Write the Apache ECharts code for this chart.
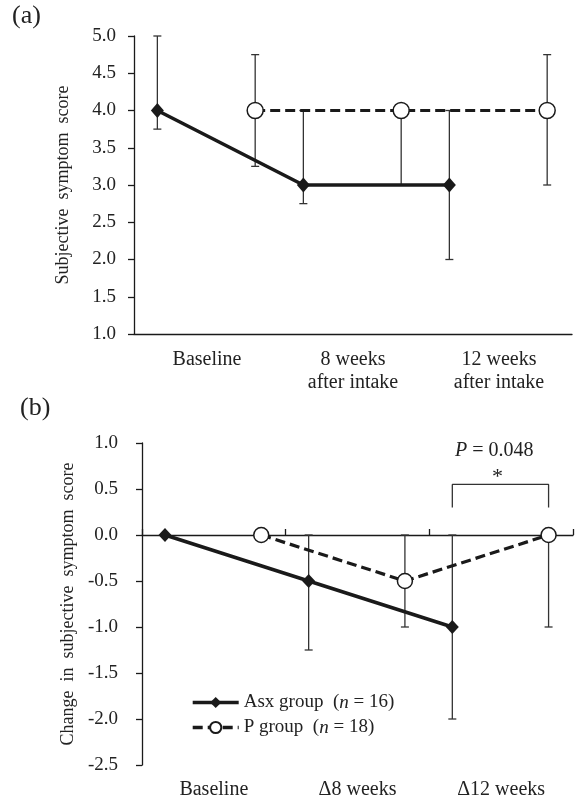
<!DOCTYPE html>
<html>
	<head>
		<meta charset="utf-8">
		<title></title>
		<script type="text/javascript" src="https://cdn.jsdelivr.net/npm/echarts@6/dist/echarts.min.js"></script>
	</head>
	<body style="margin:0;">
		<div id="chart" style="width:575px;height:800px;"></div>
		<script type="text/javascript">
			// 分类
			var catsA = ['Baseline', '8 weeks\nafter intake', '12 weeks\nafter intake'];
			var catsB = ['Baseline', 'Δ8 weeks', 'Δ12 weeks'];
			var yTicksA = [1.0, 5.0, 0.5]; // min, max, interval
			var yTicksB = [-2.5, 1.0, 0.5];

			// (a) Subjective symptom score
			var asxA = [4.0, 3.0, 3.0];
			var asxALow = [3.75, 2.75, 2.0];
			var asxAHigh = [5.0, 4.0, 4.0];
			var pA = [4.0, 4.0, 4.0];
			var pALow = [3.25, 3.0, 3.0];
			var pAHigh = [4.75, 4.0, 4.75];

			// (b) Change in subjective symptom score
			var asxB = [0, -0.5, -1.0];
			var asxBLow = [0, -1.25, -2.0];
			var asxBHigh = [0, 0, 0];
			var pB = [0, -0.5, 0];
			var pBLow = [0, -1.0, -1.0];
			var pBHigh = [0, 0, 0];

			var groupNames = ['Asx group', 'P group'];
			var groupN = [16, 18];
			var bracketY = [0.3, 0.55];
			var pValue = '0.048';

			// 组内偏移（每个分类里两组点的位置）
			var asxOffset = 0.16;
			var pOffset = 0.83;

			var font = '"Liberation Serif", "DejaVu Serif", serif';
			var ink = '#1a1a1a';

			function toPts(vals, off) {
				return vals.map(function(v, i) { return [i + off, v]; });
			}
			function toErr(low, high, off) {
				return low.map(function(l, i) { return [i + off, l, high[i]]; });
			}

			// 误差线
			function errRender(params, api) {
				var x = api.value(0), lo = api.value(1), hi = api.value(2);
				if (lo === hi) return null;
				var t = api.coord([x, hi]);
				var b = api.coord([x, lo]);
				var c = 4;
				var st = { stroke: '#333', lineWidth: 1.3 };
				return {
					type: 'group',
					children: [
						{ type: 'line', shape: { x1: t[0], y1: t[1], x2: b[0], y2: b[1] }, style: st },
						{ type: 'line', shape: { x1: t[0] - c, y1: t[1], x2: t[0] + c, y2: t[1] }, style: st },
						{ type: 'line', shape: { x1: b[0] - c, y1: b[1], x2: b[0] + c, y2: b[1] }, style: st }
					]
				};
			}

			function errSeries(xi, yi, data) {
				return {
					type: 'custom',
					xAxisIndex: xi,
					yAxisIndex: yi,
					renderItem: errRender,
					encode: { x: 0, y: [1, 2] },
					data: data,
					z: 1,
					silent: true
				};
			}

			function asxSeries(name, xi, yi, data, size) {
				return {
					name: name,
					type: 'line',
					xAxisIndex: xi,
					yAxisIndex: yi,
					data: data,
					symbol: 'diamond',
					symbolSize: size,
					itemStyle: { color: ink },
					lineStyle: { color: ink, width: 3.6 },
					z: 3
				};
			}

			function pSeries(name, xi, yi, data, size) {
				return {
					name: name,
					type: 'line',
					xAxisIndex: xi,
					yAxisIndex: yi,
					data: data,
					symbol: 'circle',
					symbolSize: size,
					itemStyle: { color: '#fff', borderColor: ink, borderWidth: 1.5 },
					lineStyle: { color: ink, width: 3.2, type: [10, 5] },
					z: 4
				};
			}

			var axisLineStyle = { color: ink, width: 1.3 };
			var tickFont = { fontFamily: font, fontSize: 19, color: '#222' };
			var catFont = { fontFamily: font, fontSize: 20, color: '#222' };

			var myChart = echarts.init(document.getElementById('chart'));
			var option = {
				animation: false,
				backgroundColor: '#fff',
				grid: [
					{ left: 134, top: 36, width: 438, height: 298 },
					{ left: 142, top: 443, width: 431, height: 322 }
				],
				xAxis: [
					{
						type: 'category', gridIndex: 0, data: catsA,
						axisLine: { lineStyle: axisLineStyle },
						axisTick: { length: 6, lineStyle: axisLineStyle },
						axisLabel: Object.assign({ margin: 14, lineHeight: 23 }, catFont)
					},
					{ type: 'value', gridIndex: 0, min: 0, max: 3, show: false },
					{
						type: 'category', gridIndex: 1, data: catsB,
						axisLine: { show: false, onZero: false },
						axisTick: { show: false },
						axisLabel: Object.assign({ margin: 15 }, catFont)
					},
					{
						type: 'value', gridIndex: 1, min: 0, max: 3, interval: 1,
						axisLine: { onZero: true, lineStyle: axisLineStyle },
						axisTick: { length: 6, lineStyle: axisLineStyle },
						axisLabel: { show: false },
						splitLine: { show: false }
					}
				],
				yAxis: [
					{
						type: 'value', gridIndex: 0,
						min: yTicksA[0], max: yTicksA[1], interval: yTicksA[2],
						name: 'Subjective  symptom  score',
						nameLocation: 'middle', nameGap: 62,
						nameTextStyle: { fontFamily: font, fontSize: 18, color: '#222' },
						axisLine: { show: true, lineStyle: axisLineStyle },
						axisTick: { show: true, length: 6, lineStyle: axisLineStyle },
						axisLabel: Object.assign({ margin: 18, formatter: function(v) { return v.toFixed(1); } }, tickFont),
						splitLine: { show: false }
					},
					{
						type: 'value', gridIndex: 1,
						min: yTicksB[0], max: yTicksB[1], interval: yTicksB[2],
						name: 'Change  in  subjective  symptom  score',
						nameLocation: 'middle', nameGap: 64,
						nameTextStyle: { fontFamily: font, fontSize: 18, color: '#222' },
						axisLine: { show: true, onZero: false, lineStyle: axisLineStyle },
						axisTick: { show: true, length: 6, lineStyle: axisLineStyle },
						axisLabel: Object.assign({ margin: 24, formatter: function(v) { return v.toFixed(1); } }, tickFont),
						splitLine: { show: false }
					}
				],
				legend: {
					orient: 'vertical',
					left: 186,
					top: 688,
					itemWidth: 46,
					itemHeight: 14,
					itemGap: 6,
					data: groupNames,
					lineStyle: { width: 3.4 },
					formatter: function(name) {
						var n = groupN[groupNames.indexOf(name)];
						return '{t|' + name + '  (}{i|n}{t| = ' + n + ')}';
					},
					textStyle: {
						rich: {
							t: { fontFamily: font, fontSize: 19, color: '#222' },
							i: { fontFamily: font, fontSize: 19, fontStyle: 'italic', color: '#222' }
						}
					}
				},
				graphic: [
					{ type: 'text', left: 12, top: 3, style: { text: '(a)', font: '26px ' + font, fill: '#222' } },
					{ type: 'text', left: 20, top: 395, style: { text: '(b)', font: '26px ' + font, fill: '#222' } },
					{
						type: 'text', left: 455, top: 441,
						style: {
							text: '{i|P} = ' + pValue,
							rich: { i: { fontStyle: 'italic', fontFamily: font, fontSize: 20 } },
							font: '20px ' + font, fill: '#222'
						}
					},
					{ type: 'text', left: 492, top: 466, style: { text: '*', font: '22px ' + font, fill: '#222' } }
				],
				series: [
					errSeries(1, 0, toErr(asxALow, asxAHigh, asxOffset)),
					errSeries(1, 0, toErr(pALow, pAHigh, pOffset)),
					asxSeries('Asx (a)', 1, 0, toPts(asxA, asxOffset), [13, 15]),
					pSeries('P (a)', 1, 0, toPts(pA, pOffset), 16),
					errSeries(3, 1, toErr(asxBLow, asxBHigh, asxOffset)),
					errSeries(3, 1, toErr(pBLow, pBHigh, pOffset)),
					asxSeries(groupNames[0], 3, 1, toPts(asxB, asxOffset), [13, 14]),
					pSeries(groupNames[1], 3, 1, toPts(pB, pOffset), 15),
					{
						// 显著性括号
						type: 'line',
						xAxisIndex: 3,
						yAxisIndex: 1,
						symbol: 'none',
						silent: true,
						lineStyle: { color: '#333', width: 1.3 },
						data: [
							[2 + asxOffset, bracketY[0]],
							[2 + asxOffset, bracketY[1]],
							[2 + pOffset, bracketY[1]],
							[2 + pOffset, bracketY[0]]
						],
						z: 2
					}
				]
			};
			myChart.setOption(option);
		</script>
	</body>
</html>
